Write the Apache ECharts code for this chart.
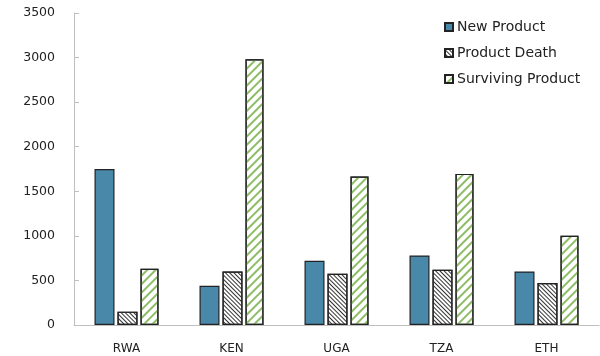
<!DOCTYPE html>
<html>
<head>
<meta charset="utf-8">
<script src="https://cdn.jsdelivr.net/npm/echarts@6/dist/echarts.min.js"></script>
<style>
  html, body { margin: 0; padding: 0; background: #fff; }
  #chart { width: 600px; height: 356px; }
</style>
</head>
<body>
<div id="chart"></div>
<script>
var categories = ['RWA', 'KEN', 'UGA', 'TZA', 'ETH'];
var newProduct = [1750, 440, 720, 780, 600];
var productDeath = [150, 600, 575, 620, 470];
var survivingProduct = [630, 2980, 1665, 1695, 1000];
var yTicks = [0, 500, 1000, 1500, 2000, 2500, 3000, 3500];

var myChart = echarts.init(document.getElementById('chart'));
var axisColor = '#bfbfbf';
var font = 'DejaVu Sans';

var option = {
    animation: false,
    textStyle: { fontFamily: font },
    grid: { left: 74, right: 1, top: 13, bottom: 31 },
    legend: {
        orient: 'vertical',
        left: 439,
        top: 14,
        icon: 'rect',
        itemWidth: 8,
        itemHeight: 8,
        itemGap: 10,
        textStyle: { fontSize: 14, color: '#222', fontFamily: font, lineHeight: 16, padding: [0, 0, 0, -1] },
        data: ['New Product', 'Product Death', 'Surviving Product']
    },
    xAxis: {
        type: 'category',
        data: categories,
        axisLine: { lineStyle: { color: axisColor } },
        axisTick: { inside: true, length: 5, lineStyle: { color: axisColor } },
        axisLabel: { color: '#222', fontSize: 12, margin: 18 }
    },
    yAxis: {
        type: 'value',
        min: yTicks[0],
        max: yTicks[yTicks.length - 1],
        interval: 500,
        splitLine: { show: false },
        axisLine: { show: true, lineStyle: { color: axisColor } },
        axisTick: { show: true, inside: true, length: 5, lineStyle: { color: axisColor } },
        axisLabel: { color: '#222', fontSize: 12.5, margin: 19, formatter: function (v) { return String(v); } }
    },
    series: [
        {
            name: 'New Product',
            type: 'bar',
            barWidth: 20,
            barGap: '15%',
            data: newProduct,
            itemStyle: { color: '#4a88a9', borderColor: '#222', borderWidth: 1.2 }
        },
        {
            name: 'Product Death',
            type: 'bar',
            barWidth: 20,
            barGap: '15%',
            data: productDeath,
            itemStyle: {
                color: '#ffffff', borderColor: '#222', borderWidth: 1.2,
                decal: {
                    symbol: 'rect',
                    color: '#333',
                    dashArrayX: [1, 0],
                    dashArrayY: [1, 2],
                    rotation: Math.PI / 4
                }
            }
        },
        {
            name: 'Surviving Product',
            type: 'bar',
            barWidth: 18,
            barGap: '15%',
            data: survivingProduct,
            itemStyle: {
                color: '#ffffff', borderColor: '#222', borderWidth: 1.2,
                decal: {
                    symbol: 'rect',
                    color: '#8dbd66',
                    dashArrayX: [1, 0],
                    dashArrayY: [2, 4],
                    rotation: -Math.PI / 4
                }
            }
        }
    ]
};
myChart.setOption(option);
</script>
</body>
</html>
